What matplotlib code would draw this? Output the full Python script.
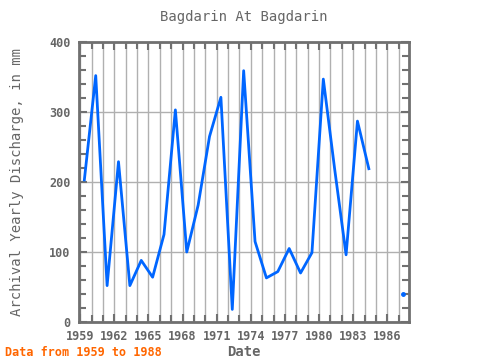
import numpy as np
import matplotlib
matplotlib.use("Agg")
import matplotlib.pyplot as plt
from matplotlib.ticker import MultipleLocator

# yearly values (1985, 1986 missing)
years = [1959, 1960, 1961, 1962, 1963, 1964, 1965, 1966, 1967, 1968,
         1969, 1970, 1971, 1972, 1973, 1974, 1975, 1976, 1977, 1978,
         1979, 1980, 1981, 1982, 1983, 1984, 1985, 1986, 1987]
discharge = [203, 352, 52, 229, 52, 88, 64, 125, 303, 100,
             167, 265, 321, 18, 359, 115, 63, 72, 105, 70,
             99, 347, 218, 96, 287, 219, np.nan, np.nan, 40]
xticks = [1959, 1962, 1965, 1968, 1971, 1974, 1977, 1980, 1983, 1986]

plt.rcParams['font.family'] = 'DejaVu Sans Mono'
grey = '#666666'

fig = plt.figure(figsize=(4.8, 3.6), dpi=100)
ax = fig.add_axes([79 / 480, 1 - 322 / 360, 330 / 480, 280 / 360])

x = np.array(years) + 0.37
ax.plot(x, discharge, color='#0066ff', lw=2, marker='o', ms=2.5, markevery=[28])

ax.set_xlim(1958.9, 1987.9)
ax.set_ylim(0, 400)
ax.set_xticks(xticks)
ax.xaxis.set_minor_locator(MultipleLocator(1))
ax.yaxis.set_major_locator(MultipleLocator(100))
ax.yaxis.set_minor_locator(MultipleLocator(20))
ax.grid(which='major', axis='y', color='#b0b0b0', lw=1)
ax.grid(which='both', axis='x', color='#b0b0b0', lw=1)
ax.set_axisbelow(True)

for s in ax.spines.values():
    s.set_color('#707070')
    s.set_linewidth(2)
ax.tick_params(which='both', direction='in', top=True, right=True,
               colors='#707070', labelcolor=grey, labelsize=8.5)
ax.tick_params(which='major', length=6, width=1.5)
ax.tick_params(which='minor', length=5, width=1.5)
ax.tick_params(axis='x', pad=6)
ax.tick_params(axis='y', pad=6)
for lbl in ax.get_xticklabels() + ax.get_yticklabels():
    lbl.set_fontweight('bold')
ax.get_yticklabels()[0].set_va('bottom')

ax.set_title('Bagdarin At Bagdarin', color=grey, fontsize=10, pad=15)
ax.set_xlabel('Date', color=grey, fontsize=10, fontweight='bold', labelpad=1)
ax.set_ylabel('Archival Yearly Discharge, in mm', color=grey, fontsize=10, labelpad=18)
fig.text(5 / 480, 1 - 352 / 360, 'Data from 1959 to 1988', color='#ff6600',
         fontsize=8.5, fontweight='bold', va='center')

fig.savefig('out.png', dpi=100)
